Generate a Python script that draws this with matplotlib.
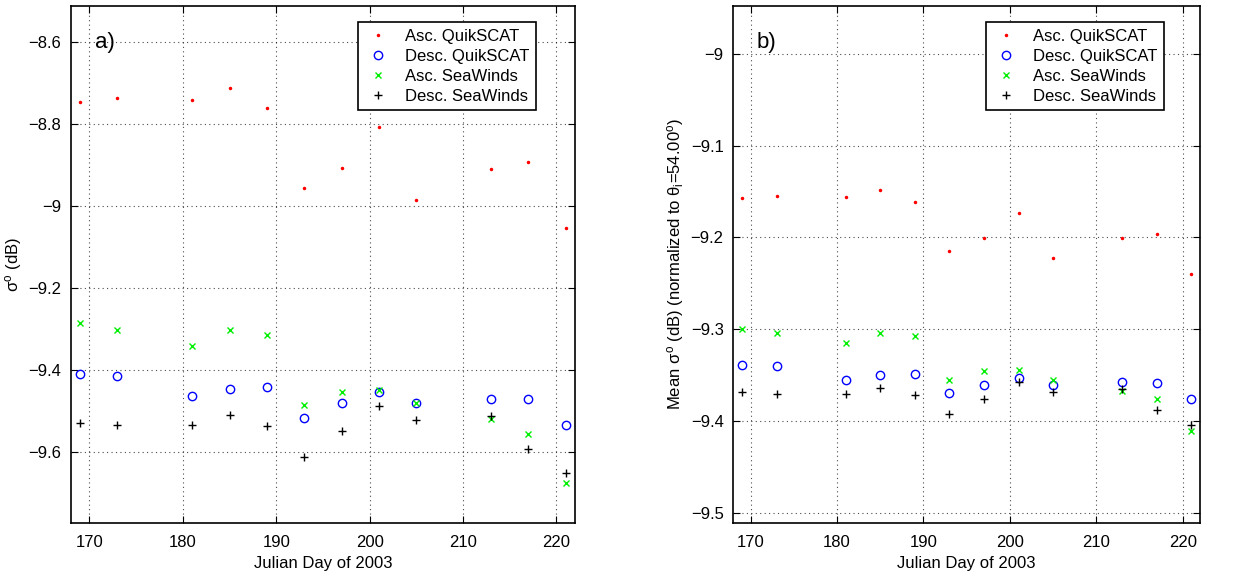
import numpy as np
import matplotlib
matplotlib.use("Agg")
import matplotlib.pyplot as plt

plt.rcParams["font.family"] = ["Liberation Sans", "DejaVu Sans"]
plt.rcParams["mathtext.fontset"] = "custom"
plt.rcParams["mathtext.rm"] = "Liberation Sans"
plt.rcParams["mathtext.it"] = "Liberation Sans"

# Julian days of the passes
days = [169, 173, 181, 185, 189, 193, 197, 201, 205, 213, 217, 221]

# panel a) raw sigma0 (dB)
a_asc_qs = [-8.746, -8.737, -8.742, -8.713, -8.762, -8.956, -8.907, -8.809, -8.987, -8.911, -8.893, -9.053]
a_desc_qs = [-9.410, -9.414, -9.465, -9.446, -9.441, -9.518, -9.482, -9.453, -9.481, -9.471, -9.471, -9.534]
a_asc_sw = [-9.287, -9.302, -9.342, -9.302, -9.314, -9.486, -9.453, -9.450, -9.481, -9.519, -9.556, -9.675]
a_desc_sw = [-9.529, -9.535, -9.535, -9.510, -9.538, -9.612, -9.550, -9.489, -9.522, -9.512, -9.593, -9.651]

# panel b) normalized to 54 deg incidence
b_asc_qs = [-9.157, -9.155, -9.156, -9.148, -9.161, -9.215, -9.201, -9.173, -9.222, -9.201, -9.196, -9.240]
b_desc_qs = [-9.339, -9.340, -9.355, -9.350, -9.349, -9.370, -9.361, -9.353, -9.361, -9.358, -9.359, -9.376]
b_asc_sw = [-9.300, -9.304, -9.315, -9.304, -9.308, -9.355, -9.346, -9.345, -9.355, -9.367, -9.376, -9.411]
b_desc_sw = [-9.369, -9.371, -9.371, -9.364, -9.372, -9.392, -9.376, -9.358, -9.368, -9.365, -9.388, -9.404]

labels = ["Asc. QuikSCAT", "Desc. QuikSCAT", "Asc. SeaWinds", "Desc. SeaWinds"]

fig = plt.figure(figsize=(12.41, 5.77), dpi=100)
ax1 = fig.add_axes([0.057, 0.094, 0.4064, 0.8955])
ax2 = fig.add_axes([0.5909, 0.094, 0.3761, 0.8955])


def draw(ax, asc_qs, desc_qs, asc_sw, desc_sw):
    ax.plot(days, asc_qs, ".", color="red", markersize=3, label=labels[0])
    ax.plot(days, desc_qs, "o", mfc="none", mec="blue", markersize=6, mew=1.0, label=labels[1])
    ax.plot(days, asc_sw, "x", color="#00ee00", markersize=4, mew=1.0, label=labels[2])
    ax.plot(days, desc_sw, "+", color="black", markersize=6, mew=1.0, label=labels[3])
    ax.set_xlim(168, 222)
    ax.set_xticks([170, 180, 190, 200, 210, 220])
    ax.grid(True, linestyle=(0, (1, 3)), color="black", linewidth=0.8, alpha=0.7)
    ax.tick_params(direction="in", top=True, right=True, labelsize=12, length=5, pad=7)
    ax.tick_params(axis="x", pad=9)
    for s in ax.spines.values():
        s.set_linewidth(1.2)
    ax.set_xlabel("Julian Day of 2003", fontsize=12, labelpad=4)
    leg = ax.legend(loc="upper right", fontsize=12, fancybox=False, framealpha=1,
                    edgecolor="black", borderpad=0.4, handletextpad=0.8,
                    handlelength=1.6, labelspacing=0.3, borderaxespad=0,
                    bbox_to_anchor=(0.922, 0.969))
    leg.get_frame().set_linewidth(1.2)


draw(ax1, a_asc_qs, a_desc_qs, a_asc_sw, a_desc_sw)
ax1.set_ylim(-9.773, -8.513)
ax1.set_yticks([-9.6, -9.4, -9.2, -9.0, -8.8, -8.6])
ax1.set_yticklabels(["\u22129.6", "\u22129.4", "\u22129.2", "\u22129", "\u22128.8", "\u22128.6"])
ax1.set_ylabel(r"$\sigma^o$ (dB)", fontsize=12, labelpad=3)
ax1.text(0.048, 0.93, "a)", transform=ax1.transAxes, fontsize=16, va="center")

draw(ax2, b_asc_qs, b_desc_qs, b_asc_sw, b_desc_sw)
ax2.set_ylim(-9.511, -8.948)
ax2.set_yticks([-9.5, -9.4, -9.3, -9.2, -9.1, -9.0])
ax2.set_yticklabels(["\u22129.5", "\u22129.4", "\u22129.3", "\u22129.2", "\u22129.1", "\u22129"])
ax2.set_ylabel(r"Mean $\sigma^o$ (dB) (normalized to $\theta_i$=54.00$^o$)", fontsize=12, labelpad=3)
ax2.text(0.05, 0.93, "b)", transform=ax2.transAxes, fontsize=16, va="center")

fig.savefig("out.png", dpi=100)
